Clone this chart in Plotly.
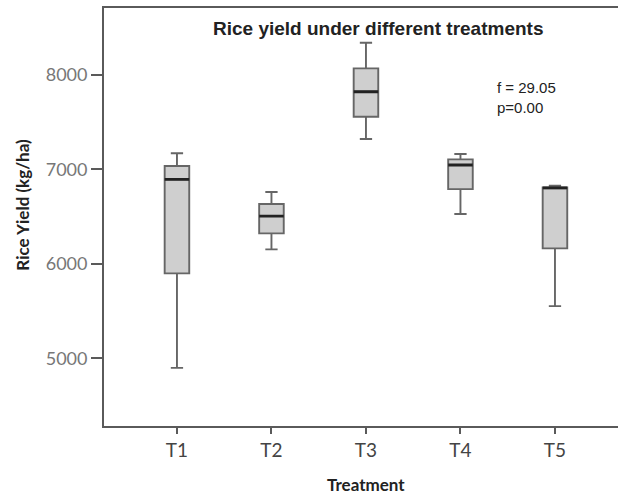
import plotly.graph_objects as go

treatments = ["T1", "T2", "T3", "T4", "T5"]
minimum = [4899, 6154, 7322, 6528, 5553]
q1 = [5899, 6323, 7558, 6792, 6164]
median = [6895, 6506, 7823, 7047, 6805]
q3 = [7036, 6634, 8071, 7107, 6810]
maximum = [7171, 6761, 8342, 7163, 6827]
y_ticks = [5000, 6000, 7000, 8000]
title_text = "Rice yield under different treatments"
stats_text = "f = 29.05<br>p=0.00"

fig = go.Figure()
fig.add_trace(go.Box(
    x=treatments, q1=q1, median=median, q3=q3,
    lowerfence=minimum, upperfence=maximum,
    fillcolor="#cfcfcf", line=dict(color="#666666", width=1.9),
    width=0.26, whiskerwidth=0.5, boxpoints=False, showlegend=False,
))
# darker, thicker median line overlay
fig.add_trace(go.Box(
    x=treatments, q1=median, median=median, q3=median,
    lowerfence=median, upperfence=median,
    fillcolor="rgba(0,0,0,0)", line=dict(color="#222222", width=2.8),
    width=0.26, whiskerwidth=0, boxpoints=False, showlegend=False,
    hoverinfo="skip",
))

axis_color = "#5a5a5a"
fig.update_layout(
    width=618, height=496,
    margin=dict(l=104, r=0, t=8, b=70),
    paper_bgcolor="white", plot_bgcolor="white",
    boxmode="overlay",
    xaxis=dict(
        type="category", range=[-0.772, 4.667],
        showline=True, linecolor=axis_color, linewidth=1.8, mirror=True,
        ticks="outside", ticklen=6, tickcolor=axis_color, tickwidth=1.8,
        showgrid=False, zeroline=False,
        tickfont=dict(family="Lato", size=19, color="#444444"),
    ),
    yaxis=dict(
        range=[4283, 8710], tickvals=y_ticks,
        showline=True, linecolor=axis_color, linewidth=1.8,
        ticks="outside", ticklen=11, tickcolor=axis_color, tickwidth=1.8,
        showgrid=False, zeroline=False,
        tickfont=dict(family="Lato", size=18, color="#777777"),
    ),
    annotations=[
        dict(text="<b>" + title_text + "</b>", xref="paper", yref="paper",
             x=0.533, y=0.952, showarrow=False, xanchor="center", yanchor="middle",
             font=dict(family="Liberation Sans", size=19, color="#222222")),
        dict(text=stats_text, xref="paper", yref="paper",
             x=0.761, y=0.787, showarrow=False, xanchor="left", yanchor="middle",
             align="left",
             font=dict(family="Liberation Sans", size=15, color="#222222")),
        dict(text="<b>Rice Yield (kg/ha)</b>", xref="paper", yref="paper",
             x=-0.158, y=0.529, showarrow=False, textangle=-90,
             xanchor="center", yanchor="middle",
             font=dict(family="Lato", size=17, color="#222222")),
        dict(text="<b>Treatment</b>", xref="paper", yref="paper",
             x=0.51, y=-0.140, showarrow=False, xanchor="center", yanchor="middle",
             font=dict(family="Lato", size=17, color="#222222")),
    ],
)

fig.write_html("out.html")
